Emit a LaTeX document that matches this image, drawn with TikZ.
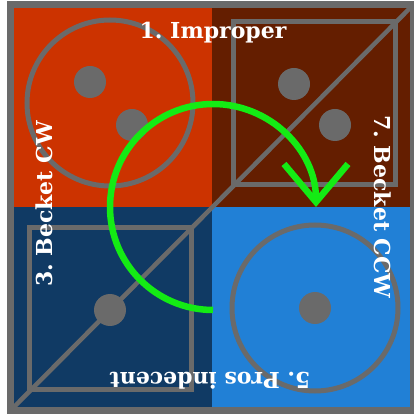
\documentclass[tikz,border=0pt]{standalone}
\usepackage{fontspec}
\usetikzlibrary{matrix,arrows.meta}

\newfontfamily\callfont{DejaVu Serif}
\definecolor{improper}{RGB}{204,51,0}
\definecolor{beckccw}{RGB}{100,30,0}
\definecolor{beckcw}{RGB}{16,58,100}
\definecolor{indecent}{RGB}{33,128,214}
\definecolor{chalk}{RGB}{106,106,106}
\definecolor{swingcol}{RGB}{20,235,20}

\tikzset{
  ring/.style={circle, draw=chalk, line width=5pt, minimum size=166pt, inner sep=0pt},
  floorbox/.style={rectangle, draw=chalk, line width=5pt, minimum size=162pt, inner sep=0pt},
  pip/.style={circle, fill=chalk, minimum size=32pt, inner sep=0pt},
  callname/.style={text=white, font=\callfont\fontsize{22}{26}\selectfont\bfseries\frenchspacing, inner sep=0pt, anchor=base},
  swing/.style={draw=swingcol, line width=6.5pt, -{Straight Barb[length=38pt,width=64pt]}}
}

\begin{document}
\begin{tikzpicture}[x=1pt,y=1pt]
    \useasboundingbox (0,0) rectangle (414,418);
    \matrix (dance) [matrix of nodes,
            nodes in empty cells,
            ampersand replacement=\&,
            inner sep=0pt,
            nodes={minimum width=199pt, minimum height=200.5pt, inner sep=0pt, outer sep=0pt},
            row sep=0pt,
            column sep=0pt] at (212,210.5) {
      |[fill=improper]| {} \& |[fill=beckccw]| {} \\
      |[fill=beckcw]| {} \& |[fill=indecent]| {} \\
    };
    \coordinate (fsw) at ([shift={(-2.5pt,-2.5pt)}]dance.south west);
    \coordinate (fne) at ([shift={(2.5pt,2.5pt)}]dance.north east);
    \draw[chalk, line width=6.5pt] (fsw) rectangle (fne);

    \node[ring] (ringnw) at (110,315) {};
    \node[floorbox, minimum height=163pt] (boxne) at (314,314.5) {};
    \node[floorbox] (boxsw) at (110,109) {};
    \node[ring] (ringse) at (315,110) {};
    \draw[chalk, line width=4.5pt] (fsw) -- (fne);
    \foreach \x/\y [count=\i] in {90/336, 132/293, 294/334, 335/293, 110/108, 315/110}
      \node[pip] (pip\i) at (\x,\y) {};

    \node[callname] (improper) at (213,379) {1. Improper};
    \node[callname, rotate=-90] (becketccw) at (374,211) {7. Becket CCW};
    \node[callname, rotate=90] (becketcw) at (53,214) {3. Becket CW};
    \node[callname, rotate=180] (prosindecent) at (210,46) {5. Pros indecent};

    \coordinate (hub) at (213,211);
    \draw[swing] ([yshift=-103pt]hub) arc[start angle=270, end angle=0, radius=103pt];
\end{tikzpicture}
\end{document}
